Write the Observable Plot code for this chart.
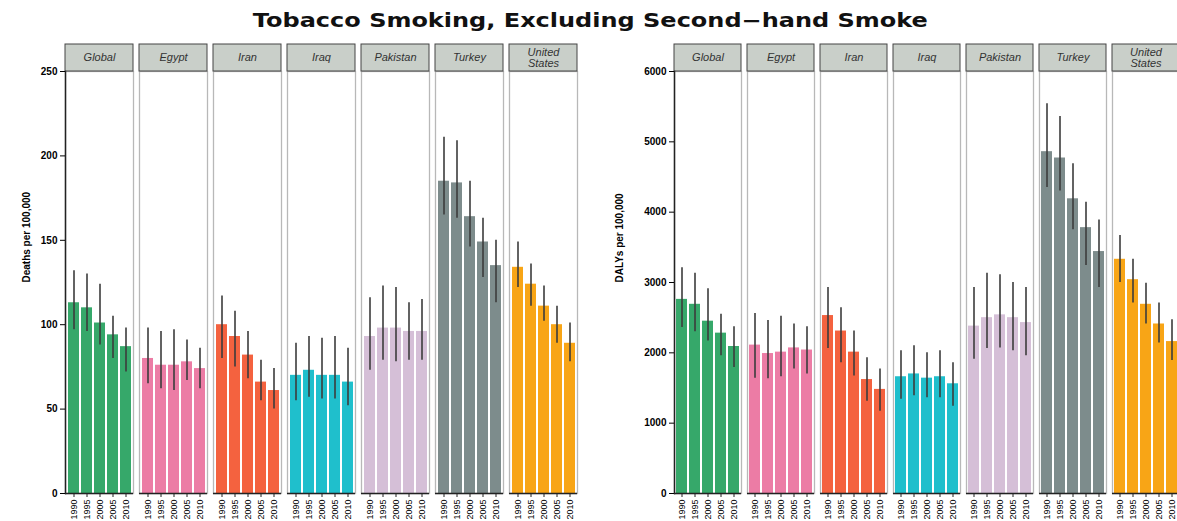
<!DOCTYPE html>
<html><head><meta charset="utf-8">
<script src="https://cdn.jsdelivr.net/npm/d3@7"></script>
<script src="https://cdn.jsdelivr.net/npm/@observablehq/plot@0.6"></script>
<style>
html,body{margin:0;padding:0;background:#fff;overflow:hidden;width:1177px;height:521px}
#wrap{position:relative;width:1177px;height:521px;overflow:hidden}
#title{position:absolute;top:9px;left:0;width:1180px;text-align:center;font:bold 19px "DejaVu Sans",sans-serif;white-space:nowrap;color:#111}
#tt{display:inline-block;transform-origin:center}
#left{position:absolute;left:0;top:0;width:590px}
#right{position:absolute;left:590px;top:0;width:600px}
svg{max-width:none !important}
</style></head><body>
<div id="wrap"><div id="left"></div><div id="right"></div><div id="title"><span id="tt">Tobacco Smoking, Excluding Second−hand Smoke</span></div></div>
<script>
const countries = ["Global","Egypt","Iran","Iraq","Pakistan","Turkey","United States"];
const stripLabels = ["Global","Egypt","Iran","Iraq","Pakistan","Turkey","United\nStates"];
const years = ["1990","1995","2000","2005","2010"];
const colors = ["#36a86a","#ec7ca5","#f4623f","#1fbfcc","#d5bfd7","#7d8c8c","#f8a516"];

const deathsMean = [
  [113,110,101,94,87],
  [80,76,76,78,74],
  [100,93,82,66,61],
  [70,73,70,70,66],
  [93,98,98,96,96],
  [185,184,164,149,135],
  [134,124,111,100,89]
];
const deathsHigh = [
  [132,130,124,105,98],
  [98,96,97,91,86],
  [117,108,96,79,74],
  [89,93,92,93,86],
  [116,123,122,113,115],
  [211,209,185,163,150],
  [149,136,123,111,101]
];
const deathsLow = [
  [97,96,88,80,72],
  [65,62,61,67,62],
  [80,75,68,55,50],
  [55,57,56,56,52],
  [73,79,78,79,79],
  [165,163,146,128,113],
  [122,111,102,89,78]
];
const dalysMean = [
  [2760,2690,2450,2280,2090],
  [2110,1990,2010,2070,2040],
  [2530,2310,2010,1620,1480],
  [1660,1700,1640,1660,1560],
  [2380,2500,2540,2500,2430],
  [4860,4770,4190,3780,3440],
  [3330,3040,2690,2410,2160]
];
const dalysHigh = [
  [3210,3130,2910,2550,2370],
  [2560,2460,2520,2410,2370],
  [2930,2640,2310,1930,1770],
  [2030,2100,2000,2030,1860],
  [2930,3130,3110,3000,2930],
  [5540,5360,4690,4140,3890],
  [3670,3330,2990,2710,2470]
];
const dalysLow = [
  [2360,2300,2170,1960,1790],
  [1640,1630,1660,1770,1700],
  [2060,1860,1670,1310,1170],
  [1340,1390,1360,1360,1240],
  [1910,2060,2070,2030,1960],
  [4350,4300,3750,3240,2930],
  [3000,2710,2410,2140,1890]
];
const deathsTicks = [0,50,100,150,200,250];
const dalysTicks = [0,1000,2000,3000,4000,5000,6000];

function chart({mean, low, high, ticks, label, width, marginLeft, marginRight, labelDx}) {
  const rows = [];
  countries.forEach((c,i)=>years.forEach((y,j)=>rows.push({country:c, year:y, v:mean[i][j], lo:low[i][j], hi:high[i][j]})));
  const top = ticks[ticks.length-1];
  const plotH = 521-71-28;
  const stripTop = top*(1+27/plotH);
  const strips = countries.map((c,i)=>({country:c, label:stripLabels[i]}));
  return Plot.plot({
    width, height:521, marginTop:71, marginBottom:28, marginLeft, marginRight,
    style:{fontFamily:"'Liberation Sans', Arial, sans-serif", background:"transparent", overflow:"visible", maxWidth:"none"},
    fx:{domain:countries, paddingInner:0.082, paddingOuter:0, axis:null, label:null},
    x:{domain:years, paddingInner:0.17, paddingOuter:0.08, label:null},
    y:{domain:[0,top], label:null},
    color:{domain:countries, range:colors},
    marks:[
      Plot.frame({stroke:"#b8b8b8", strokeWidth:1.3}),
      Plot.barY(rows,{fx:"country", x:"year", y:"v", fill:"country"}),
      Plot.ruleX(rows,{fx:"country", x:"year", y1:"lo", y2:"hi", stroke:"#3c3c3c", strokeWidth:1.6}),
      Plot.ruleY([0],{stroke:"#222", strokeWidth:1.5}),
      Plot.rect(strips,{fx:"country", y1:top, y2:stripTop, fill:"#c9cfc9", stroke:"#444", strokeWidth:1}),
      Plot.text(strips,{fx:"country", y:(top+stripTop)/2, text:"label", fontStyle:"italic", fontSize:11, fill:"#333", lineHeight:0.95}),
      Plot.frame({anchor:"left", facetAnchor:"left", stroke:"#222", strokeWidth:1.5}),
      Plot.axisX({tickRotate:-90, tickSize:4, tickPadding:2, fontSize:9, label:null, stroke:"#222"}),
      Plot.axisY({ticks, tickSize:5, tickPadding:3, fontSize:10, fontWeight:"bold", label:null, tickFormat:d=>String(d)}),
      Plot.text([{country:"Global", t:label}],{fx:"country", text:"t", frameAnchor:"left", rotate:-90, dx:labelDx, fontSize:10, fontWeight:"bold"})
    ]
  });
}

document.getElementById("left").append(chart({mean:deathsMean, low:deathsLow, high:deathsHigh, ticks:deathsTicks, label:"Deaths per 100,000", width:590, marginLeft:64, marginRight:12, labelDx:-39}));
document.getElementById("right").append(chart({mean:dalysMean, low:dalysLow, high:dalysHigh, ticks:dalysTicks, label:"DALYs per 100,000", width:600, marginLeft:83, marginRight:10, labelDx:-55}));

const tt = document.getElementById("tt");
const w = tt.getBoundingClientRect().width;
tt.style.transform = `scaleX(${675/w})`;
</script>
</body></html>
